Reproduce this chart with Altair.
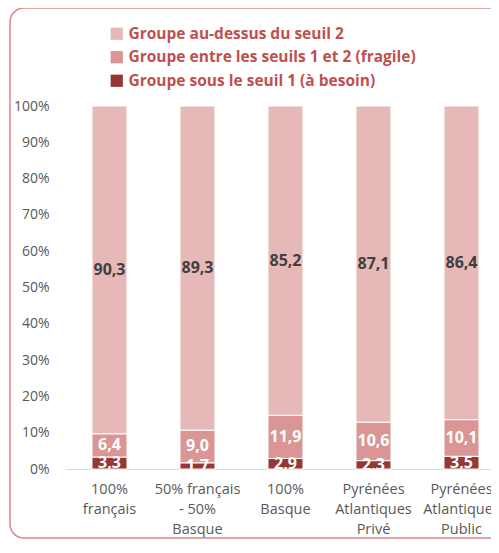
import altair as alt
import pandas as pd

categories = ["100%|français", "50% français|- 50%|Basque", "100%|Basque",
              "Pyrénées|Atlantiques|Privé", "Pyrénées|Atlantiques|Public"]
series = ["Groupe au-dessus du seuil 2", "Groupe entre les seuils 1 et 2 (fragile)",
          "Groupe sous le seuil 1 (à besoin)"]
above = [90.3, 89.3, 85.2, 87.1, 86.4]
fragile = [6.4, 9.0, 11.9, 10.6, 10.1]
need = [3.3, 1.7, 2.9, 2.3, 3.5]
colors = ["#e6b9b8", "#d99694", "#953735"]
yticks = [0, 10, 20, 30, 40, 50, 60, 70, 80, 90, 100]

rows = []
for i, c in enumerate(categories):
    for s, vals, order in [(series[2], need, 1), (series[1], fragile, 2), (series[0], above, 3)]:
        rows.append({"cat": c, "serie": s, "value": vals[i], "order": order,
                     "label": f"{vals[i]:.1f}".replace(".", ",")})
df = pd.DataFrame(rows)

FONT = "Open Sans"

xscale = alt.Scale(paddingInner=0.602, paddingOuter=0.2215, align=0.692)
xaxis = alt.Axis(labelExpr="split(datum.label, '|')", labelAngle=0,
                 labelFontSize=14.5, labelColor="#595959", labelFont=FONT,
                 labelLineHeight=20, labelPadding=13, tickSize=0, ticks=False,
                 domainColor="#d9d9d9", domainWidth=1.2, title=None)
yscale = alt.Scale(domain=[0, 100])
yaxis = alt.Axis(values=yticks, labelExpr="datum.value + '%'",
                 grid=False, domain=False, ticks=False, labelPadding=16,
                 labelOverlap=False, labelFontSize=14, labelColor="#595959",
                 labelFont=FONT, title=None)

base = alt.Chart(df)

bars = base.mark_bar(stroke="white", strokeWidth=1).encode(
    x=alt.X("cat:N", sort=categories, scale=xscale, axis=xaxis),
    y=alt.Y("value:Q", stack="zero", scale=yscale, axis=yaxis),
    color=alt.Color("serie:N", scale=alt.Scale(domain=series, range=colors),
                    legend=alt.Legend(title=None, orient="none", legendX=44, legendY=-80,
                                      symbolType="square", symbolSize=150, symbolStrokeWidth=0,
                                      labelFont=FONT, labelFontSize=15.5, labelFontWeight="bold",
                                      labelColor="#c0504d", rowPadding=6.5, labelOffset=4,
                                      labelLimit=400)),
    order=alt.Order("order:Q"),
)

texts = base.transform_stack(
    stack="value", groupby=["cat"], as_=["y0", "y1"], sort=[alt.SortField("order")]
).transform_calculate(
    mid="(datum.y0 + datum.y1) / 2"
).mark_text(font=FONT, fontWeight="bold", fontSize=16, baseline="middle", clip=True).encode(
    x=alt.X("cat:N", sort=categories, scale=xscale, axis=xaxis),
    y=alt.Y("mid:Q", scale=yscale, axis=yaxis),
    text="label:N",
    color=alt.condition("datum.order == 3", alt.value("#404040"), alt.value("white")),
)

frame = alt.Chart(pd.DataFrame({"a": [0]})).mark_rect(
    fill=None, stroke="#d98a88", strokeWidth=1.5, cornerRadius=14
).encode(x=alt.value(-55), x2=alt.value(480), y=alt.value(-98), y2=alt.value(432))

chart = alt.layer(frame, bars, texts).properties(
    width=426, height=363,
    autosize=alt.AutoSizeParams(type="none"),
    padding={"left": 57, "top": 98, "right": 0, "bottom": 70},
).configure_view(stroke=None)

chart.save("out.html", embed_options={"renderer": "svg", "actions": False})
